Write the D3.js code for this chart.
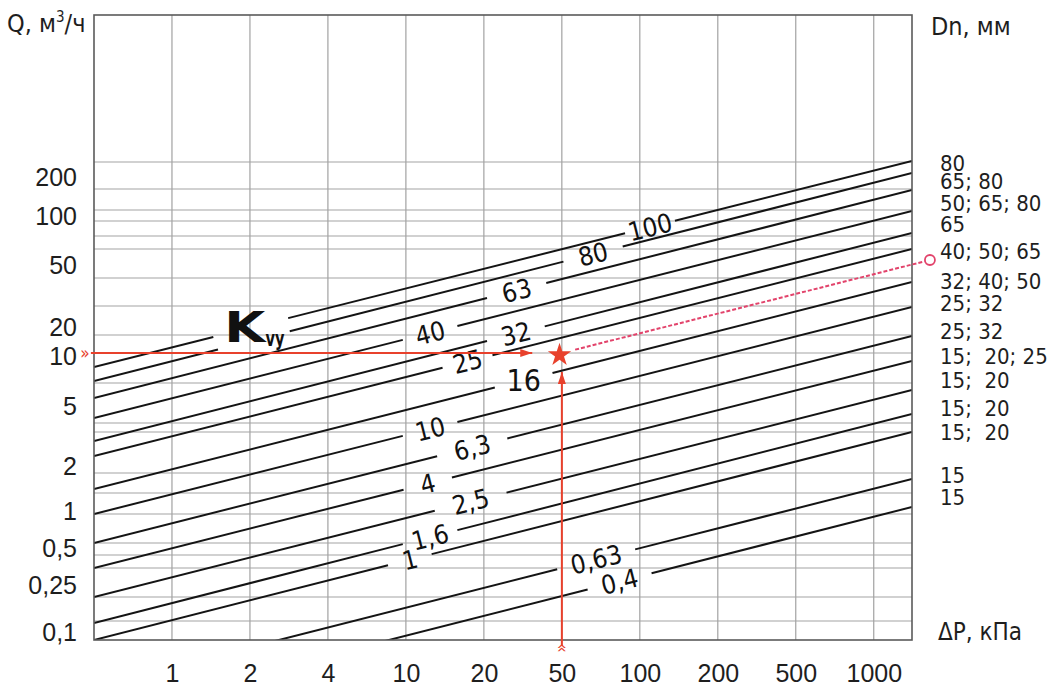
<!DOCTYPE html>
<html>
<head>
<meta charset="utf-8">
<script src="https://cdn.jsdelivr.net/npm/d3@7"></script>
<style>
  body { margin: 0; background: #fff; }
  svg { display: block; font-family: "DejaVu Sans Condensed", "DejaVu Sans", sans-serif; }
  .grid line { stroke: #a3a3a3; stroke-width: 1; }
  .grid line.v { stroke: #8f8f8f; }
  .kvs path { stroke: #141414; stroke-width: 2; fill: none; }
  .axis text { fill: #1e1e1e; }
</style>
</head>
<body>
<script>
// ΔP, кПа columns (one per vertical grid line)
const dpTicks = ['1', '2', '4', '10', '20', '50', '100', '200', '500', '1000']
// Q, м³/ч labels; the scale of the nomogram is schematic, heights are in drawing units
const qTicks = ['200', '100', '50', '20', '10', '5', '2', '1', '0,5', '0,25', '0,1']
const qTickPos = [463, 424, 375, 313, 284, 234, 174, 129, 92, 55, 7.5]
const gridRows = [478, 451, 430, 419, 404, 391, 362, 334, 305, 287, 257, 217, 208, 167, 147, 126, 97, 85, 72, 43, 19]

// Kvs lines: value, height at the left and the right border, label position (column units)
const kvsLabels = ['100', '80', '63', '40', '32', '25', '16', '10', '6,3', '4', '2,5', '1,6', '1', '0,63', '0,4']
const kvsLeft = [273, 259, 242, 222, 199, 184, 151, 126, 97, 72, 43, 17, 0, -47, -75]
const kvsRight = [479, 467, 450, 429, 407, 391, 358, 333, 304, 279, 250, 226, 208, 161, 133]
const kvsLabelAt = [7.13, 6.4, 5.42, 4.31, 5.41, 4.79, 5.51, 4.31, 4.85, 4.28, 4.83, 4.31, 4.05, 6.44, 6.74]
const kvsGap = [0.32, 0.38, 0.38, 0.35, 0.37, 0.32, 0.37, 0.35, 0.45, 0.31, 0.46, 0.35, 0.28, 0.5, 0.41]
const kvyGaps = [[1.53, 2.49], [1.59, 2.51]]

// Dn, мм at the right border
const dnLabels = ['80', '65; 80', '50; 65; 80', '65', '40; 50; 65', '32; 40; 50', '25; 32', '25; 32',
  '15; 20; 25', '15; 20', '15; 20', '15; 20', '15', '15']
const dnPos = [477, 459, 436.5, 416, 389, 358.5, 336.5, 309, 283.5, 260, 231.5, 208, 164.5, 142.5]

// worked example: Q = 10 м³/ч, ΔP = 50 кПа
const work = { dp: 6, q: 287 }
const dnPoint = { dp: 10.72, q: 380 }

const width = 1048
const height = 687
const xMax = 10.49
const red = '#e8412c'

const svg = d3.select('body').append('svg')
  .attr('width', width)
  .attr('height', height)

const x = d3.scaleLinear().domain([0, xMax]).range([94, 912])
const y = d3.scaleLinear().domain([0, 625]).range([640, 15])

svg.append('defs').append('clipPath')
  .attr('id', 'plotclip')
  .append('rect')
  .attr('x', x(0)).attr('y', y(625))
  .attr('width', x(xMax) - x(0)).attr('height', y(0) - y(625))

const marker = svg.select('defs').append('marker')
  .attr('id', 'arrow')
  .attr('viewBox', '0 0 12 8')
  .attr('refX', 12).attr('refY', 4)
  .attr('markerWidth', 13).attr('markerHeight', 8)
  .attr('markerUnits', 'userSpaceOnUse')
  .attr('orient', 'auto')
marker.append('path').attr('d', 'M0,0L12,4L0,8Z').attr('fill', red)

// grid
const grid = svg.append('g').attr('class', 'grid')
grid.selectAll('line.v')
  .data(dpTicks)
  .enter().append('line')
  .attr('class', 'v')
  .attr('x1', (d, i) => x(i + 1)).attr('x2', (d, i) => x(i + 1))
  .attr('y1', y(625)).attr('y2', y(0))
grid.selectAll('line.h')
  .data(gridRows)
  .enter().append('line')
  .attr('class', 'h')
  .attr('x1', x(0)).attr('x2', x(xMax))
  .attr('y1', d => y(d)).attr('y2', d => y(d))

// Kvs lines, broken where the labels sit
const hAt = (i, t) => kvsLeft[i] + (kvsRight[i] - kvsLeft[i]) * t / xMax
function segments (i) {
  const gaps = [[kvsLabelAt[i] - kvsGap[i], kvsLabelAt[i] + kvsGap[i]]]
  if (kvyGaps[i]) gaps.push(kvyGaps[i])
  gaps.sort((a, b) => a[0] - b[0])
  const segs = []
  let s = 0
  gaps.forEach(g => { segs.push([s, g[0]]); s = g[1] })
  segs.push([s, xMax])
  return segs.map(sg => sg.map(t => [t, hAt(i, t)]))
}
const line = d3.line().x(d => x(d[0])).y(d => y(d[1]))
const kvs = svg.append('g').attr('class', 'kvs').attr('clip-path', 'url(#plotclip)')
kvsLabels.forEach((lab, i) => {
  kvs.selectAll(null)
    .data(segments(i))
    .enter().append('path')
    .attr('d', line)
})

const angle = Math.atan2(y(kvsRight[0]) - y(kvsLeft[0]), x(xMax) - x(0)) * 180 / Math.PI
svg.append('g')
  .selectAll('text')
  .data(kvsLabels)
  .enter().append('text')
  .attr('text-anchor', 'middle')
  .attr('dy', '0.36em')
  .attr('font-size', d => d === '16' ? 30 : 26)
  .attr('fill', '#111')
  .attr('transform', (d, i) => {
    const t = kvsLabelAt[i]
    const rot = d === '16' ? 0 : angle
    return 'translate(' + x(t) + ',' + y(hAt(i, t)) + ') rotate(' + rot + ')'
  })
  .text(d => d)

// border
svg.append('rect')
  .attr('x', x(0)).attr('y', y(625))
  .attr('width', x(xMax) - x(0)).attr('height', y(0) - y(625))
  .attr('fill', 'none').attr('stroke', '#5a5a5a').attr('stroke-width', 1.6)

// axes
const axisX = d3.axisBottom(x)
  .tickValues(dpTicks.map((d, i) => i + 1))
  .tickFormat((d, i) => dpTicks[i])
  .tickSize(0).tickPadding(24)
svg.append('g').attr('class', 'axis x')
  .attr('transform', 'translate(0,' + y(0) + ')')
  .call(axisX)
  .call(g => g.select('.domain').remove())
  .selectAll('text').attr('font-size', 25).attr('font-family', null)

const axisY = d3.axisLeft(y)
  .tickValues(qTickPos)
  .tickFormat((d, i) => qTicks[i])
  .tickSize(0).tickPadding(17)
svg.append('g').attr('class', 'axis y')
  .attr('transform', 'translate(' + x(0) + ',0)')
  .call(axisY)
  .call(g => g.select('.domain').remove())
  .selectAll('text').attr('font-size', 25).attr('font-family', null)

// Dn labels
svg.append('g')
  .selectAll('text')
  .data(dnLabels)
  .enter().append('text')
  .attr('x', x(xMax) + 28)
  .attr('y', (d, i) => y(dnPos[i]))
  .attr('dy', '0.36em')
  .attr('font-size', 22)
  .attr('fill', '#1e1e1e')
  .attr('xml:space', 'preserve')
  .style('white-space', 'pre')
  .text(d => d.replace('15; ', '15;  '))

// titles
const qTitle = svg.append('text')
  .attr('x', 7).attr('y', 32)
  .attr('font-size', 25).attr('fill', '#1e1e1e')
qTitle.append('tspan').text('Q, м')
qTitle.append('tspan').attr('font-size', 15).attr('dy', -10).text('3')
qTitle.append('tspan').attr('dy', 10).text('/ч')
svg.append('text')
  .attr('x', 931).attr('y', 35)
  .attr('font-size', 25).attr('fill', '#1e1e1e')
  .text('Dn, мм')
svg.append('text')
  .attr('x', 938).attr('y', 640)
  .attr('font-size', 24).attr('fill', '#1e1e1e')
  .text('ΔP, кПа')

// Kvy label
svg.append('text')
  .attr('x', x(1.67)).attr('y', y(298))
  .attr('font-family', '"DejaVu Sans", sans-serif')
  .attr('font-weight', 'bold')
  .attr('font-size', 42)
  .attr('textLength', 41).attr('lengthAdjust', 'spacingAndGlyphs')
  .attr('fill', '#111')
  .text('K')
svg.append('text')
  .attr('x', x(2.2)).attr('y', y(294))
  .attr('font-family', '"DejaVu Sans", sans-serif')
  .attr('font-weight', 'bold')
  .attr('font-size', 21)
  .attr('textLength', 19).attr('lengthAdjust', 'spacingAndGlyphs')
  .attr('fill', '#111')
  .text('vy')

// worked example in red
svg.append('line')
  .attr('x1', x(-0.04)).attr('x2', x(5.62))
  .attr('y1', y(work.q)).attr('y2', y(work.q))
  .attr('stroke', red).attr('stroke-width', 2)
  .attr('marker-end', 'url(#arrow)')
svg.append('line')
  .attr('x1', x(work.dp)).attr('x2', x(work.dp))
  .attr('y1', y(-6)).attr('y2', y(268))
  .attr('stroke', red).attr('stroke-width', 2)
  .attr('marker-end', 'url(#arrow)')
svg.append('text')
  .attr('x', x(0) - 9).attr('y', y(work.q))
  .attr('dy', '0.33em')
  .attr('text-anchor', 'middle')
  .attr('font-size', 17).attr('fill', red)
  .text('»')
svg.append('text')
  .attr('transform', 'translate(' + x(work.dp) + ',' + (y(0) + 8) + ') rotate(-90)')
  .attr('dy', '0.33em')
  .attr('text-anchor', 'middle')
  .attr('font-size', 17).attr('fill', red)
  .text('»')

const slope = (dnPoint.q - work.q) / (dnPoint.dp - work.dp)
svg.append('line')
  .attr('x1', x(work.dp + 0.17)).attr('y1', y(work.q + 0.17 * slope))
  .attr('x2', x(dnPoint.dp - 0.07)).attr('y2', y(dnPoint.q - 0.07 * slope))
  .attr('stroke', '#e2436b').attr('stroke-width', 2)
  .attr('stroke-dasharray', '4,2')
svg.append('circle')
  .attr('cx', x(dnPoint.dp)).attr('cy', y(dnPoint.q))
  .attr('r', 5)
  .attr('fill', '#fff').attr('stroke', '#e2436b').attr('stroke-width', 1.8)

svg.append('path')
  .attr('d', d3.symbol(d3.symbolStar, 170))
  .attr('transform', 'translate(' + x(work.dp - 0.03) + ',' + y(work.q - 2) + ')')
  .attr('fill', red)
</script>
</body>
</html>
